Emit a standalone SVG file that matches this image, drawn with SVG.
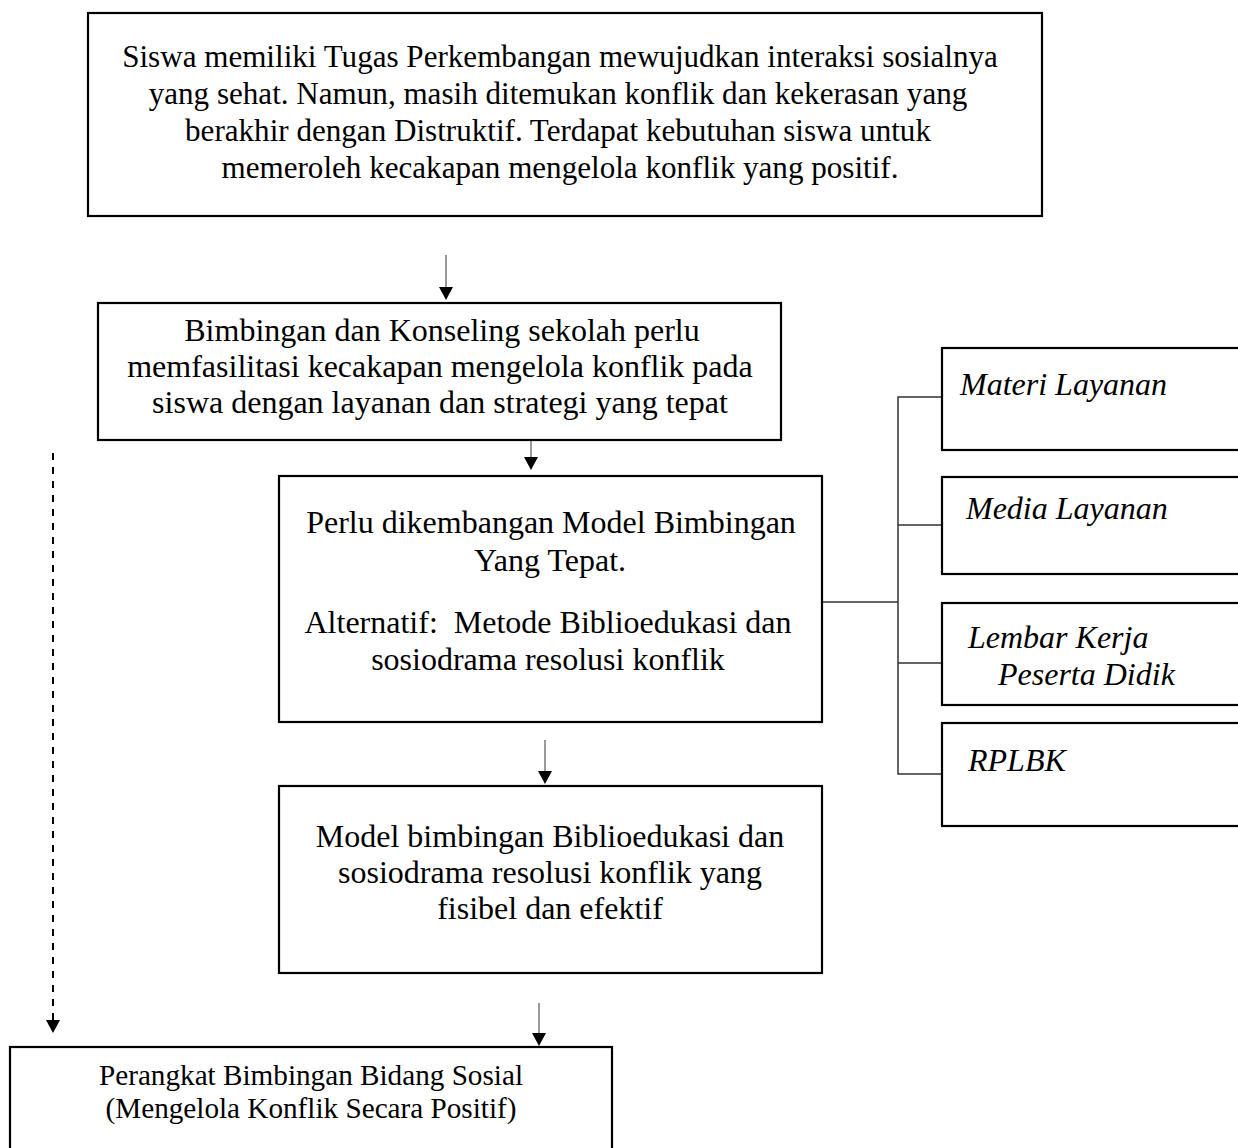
<svg xmlns="http://www.w3.org/2000/svg" width="1238" height="1148" viewBox="0 0 1238 1148">
<style>
.box{fill:#fff;stroke:#000;stroke-width:2.2}
.t{font-family:"Liberation Serif","Times New Roman",serif;font-size:32px;fill:#000}
.c{text-anchor:middle}
.i{font-style:italic}
.b1{font-size:31.1px}
.s{font-size:29.2px}
.arr{stroke:#7a7a7a;stroke-width:1.5;fill:none}
.tree{stroke:#333;stroke-width:1.5;fill:none}
.dash{stroke:#000;stroke-width:2;stroke-dasharray:7 7;fill:none}
.head{fill:#000}
</style>
<rect width="1238" height="1148" fill="#fff"/>
<g id="connectors">
<line class="arr" x1="446" y1="255" x2="446" y2="288"/>
<polygon class="head" points="439,287 453,287 446,300"/>
<line class="arr" x1="531" y1="424" x2="531" y2="458"/>
<polygon class="head" points="524,457 538,457 531,470"/>
<line class="arr" x1="545" y1="740" x2="545" y2="772"/>
<polygon class="head" points="538,771 552,771 545,784"/>
<line class="arr" x1="539" y1="1003" x2="539" y2="1034"/>
<polygon class="head" points="532,1033 546,1033 539,1046"/>
<line class="dash" x1="53" y1="453" x2="53" y2="1020"/>
<polygon class="head" points="46,1020 60,1020 53,1033"/>
<polyline class="tree" points="822,602 898,602"/>
<polyline class="tree" points="942,397 898,397 898,774 942,774"/>
<line class="tree" x1="898" y1="525" x2="942" y2="525"/>
<line class="tree" x1="898" y1="663" x2="942" y2="663"/>
</g>
<g id="n1">
<rect class="box" x="88" y="13" width="954" height="203"/>
<text class="t c b1" x="560" y="67">Siswa memiliki Tugas Perkembangan mewujudkan interaksi sosialnya</text>
<text class="t c b1" x="558" y="104">yang sehat. Namun, masih ditemukan konflik dan kekerasan yang</text>
<text class="t c b1" x="558" y="141">berakhir dengan Distruktif. Terdapat kebutuhan siswa untuk</text>
<text class="t c b1" x="560" y="178">memeroleh kecakapan mengelola konflik yang positif.</text>
</g>
<g id="n2">
<rect class="box" x="98" y="303" width="683" height="137"/>
<text class="t c" x="442" y="341">Bimbingan dan Konseling sekolah perlu</text>
<text class="t c" x="440" y="377">memfasilitasi kecakapan mengelola konflik pada</text>
<text class="t c" x="440" y="413">siswa dengan layanan dan strategi yang tepat</text>
</g>
<g id="n3">
<rect class="box" x="279" y="476" width="543" height="246"/>
<text class="t c" x="551" y="533">Perlu dikembangan Model Bimbingan</text>
<text class="t c" x="550" y="571">Yang Tepat.</text>
<text class="t c" x="548" y="633" xml:space="preserve">Alternatif:  Metode Biblioedukasi dan</text>
<text class="t c" x="548" y="670">sosiodrama resolusi konflik</text>
</g>
<g id="n4">
<rect class="box" x="279" y="786" width="543" height="187"/>
<text class="t c" x="550" y="847">Model bimbingan Biblioedukasi dan</text>
<text class="t c" x="550" y="883">sosiodrama resolusi konflik yang</text>
<text class="t c" x="550" y="919">fisibel dan efektif</text>
</g>
<g id="n5">
<rect class="box" x="10" y="1047" width="602" height="120"/>
<text class="t c s" x="311" y="1085">Perangkat Bimbingan Bidang Sosial</text>
<text class="t c s" x="311" y="1118">(Mengelola Konflik Secara Positif)</text>
</g>
<g id="r1">
<rect class="box" x="942" y="348" width="310" height="102"/>
<text class="t i" x="960" y="395">Materi Layanan</text>
</g>
<g id="r2">
<rect class="box" x="942" y="477" width="310" height="97"/>
<text class="t i" x="966" y="519">Media Layanan</text>
</g>
<g id="r3">
<rect class="box" x="942" y="603" width="310" height="102"/>
<text class="t i" x="968" y="648">Lembar Kerja</text>
<text class="t i" x="998" y="685">Peserta Didik</text>
</g>
<g id="r4">
<rect class="box" x="942" y="723" width="310" height="103"/>
<text class="t i" x="968" y="771">RPLBK</text>
</g>
</svg>
